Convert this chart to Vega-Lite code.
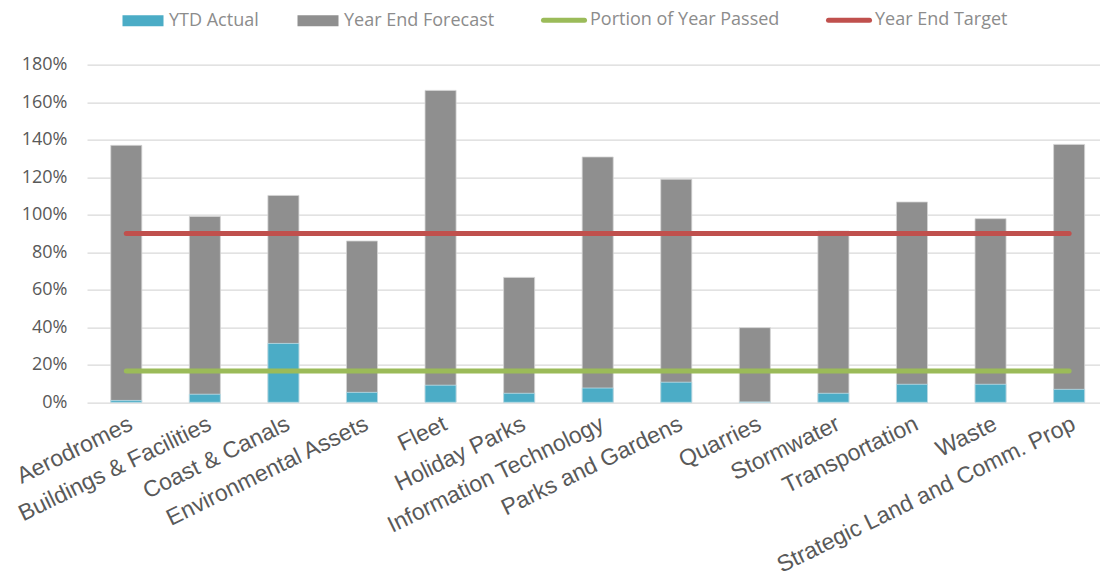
{
  "$schema": "https://vega.github.io/schema/vega-lite/v6.json",
  "width": 1013,
  "height": 337.6,
  "autosize": {"type": "none"},
  "padding": {"left": 87, "top": 64.7, "right": 0, "bottom": 174.7},
  "background": "white",
  "config": {
    "view": {"stroke": null},
    "axis": {"domain": false, "ticks": false, "title": null}
  },
  "data": {
    "values": [
      {"category": "Aerodromes", "series": "Year End Forecast", "value": 1.37},
      {"category": "Buildings & Facilities", "series": "Year End Forecast", "value": 0.991},
      {"category": "Coast & Canals", "series": "Year End Forecast", "value": 1.103},
      {"category": "Environmental Assets", "series": "Year End Forecast", "value": 0.86},
      {"category": "Fleet", "series": "Year End Forecast", "value": 1.663},
      {"category": "Holiday Parks", "series": "Year End Forecast", "value": 0.666},
      {"category": "Information Technology", "series": "Year End Forecast", "value": 1.308},
      {"category": "Parks and Gardens", "series": "Year End Forecast", "value": 1.189},
      {"category": "Quarries", "series": "Year End Forecast", "value": 0.398},
      {"category": "Stormwater", "series": "Year End Forecast", "value": 0.913},
      {"category": "Transportation", "series": "Year End Forecast", "value": 1.068},
      {"category": "Waste", "series": "Year End Forecast", "value": 0.979},
      {"category": "Strategic Land and Comm. Prop", "series": "Year End Forecast", "value": 1.375},

      {"category": "Aerodromes", "series": "YTD Actual", "value": 0.01},
      {"category": "Buildings & Facilities", "series": "YTD Actual", "value": 0.043},
      {"category": "Coast & Canals", "series": "YTD Actual", "value": 0.314},
      {"category": "Environmental Assets", "series": "YTD Actual", "value": 0.053},
      {"category": "Fleet", "series": "YTD Actual", "value": 0.091},
      {"category": "Holiday Parks", "series": "YTD Actual", "value": 0.048},
      {"category": "Information Technology", "series": "YTD Actual", "value": 0.076},
      {"category": "Parks and Gardens", "series": "YTD Actual", "value": 0.107},
      {"category": "Quarries", "series": "YTD Actual", "value": 0.001},
      {"category": "Stormwater", "series": "YTD Actual", "value": 0.048},
      {"category": "Transportation", "series": "YTD Actual", "value": 0.096},
      {"category": "Waste", "series": "YTD Actual", "value": 0.096},
      {"category": "Strategic Land and Comm. Prop", "series": "YTD Actual", "value": 0.069},

      {"category": "Aerodromes", "series": "Portion of Year Passed", "value": 0.167},
      {"category": "Buildings & Facilities", "series": "Portion of Year Passed", "value": 0.167},
      {"category": "Coast & Canals", "series": "Portion of Year Passed", "value": 0.167},
      {"category": "Environmental Assets", "series": "Portion of Year Passed", "value": 0.167},
      {"category": "Fleet", "series": "Portion of Year Passed", "value": 0.167},
      {"category": "Holiday Parks", "series": "Portion of Year Passed", "value": 0.167},
      {"category": "Information Technology", "series": "Portion of Year Passed", "value": 0.167},
      {"category": "Parks and Gardens", "series": "Portion of Year Passed", "value": 0.167},
      {"category": "Quarries", "series": "Portion of Year Passed", "value": 0.167},
      {"category": "Stormwater", "series": "Portion of Year Passed", "value": 0.167},
      {"category": "Transportation", "series": "Portion of Year Passed", "value": 0.167},
      {"category": "Waste", "series": "Portion of Year Passed", "value": 0.167},
      {"category": "Strategic Land and Comm. Prop", "series": "Portion of Year Passed", "value": 0.167},

      {"category": "Aerodromes", "series": "Year End Target", "value": 0.9},
      {"category": "Buildings & Facilities", "series": "Year End Target", "value": 0.9},
      {"category": "Coast & Canals", "series": "Year End Target", "value": 0.9},
      {"category": "Environmental Assets", "series": "Year End Target", "value": 0.9},
      {"category": "Fleet", "series": "Year End Target", "value": 0.9},
      {"category": "Holiday Parks", "series": "Year End Target", "value": 0.9},
      {"category": "Information Technology", "series": "Year End Target", "value": 0.9},
      {"category": "Parks and Gardens", "series": "Year End Target", "value": 0.9},
      {"category": "Quarries", "series": "Year End Target", "value": 0.9},
      {"category": "Stormwater", "series": "Year End Target", "value": 0.9},
      {"category": "Transportation", "series": "Year End Target", "value": 0.9},
      {"category": "Waste", "series": "Year End Target", "value": 0.9},
      {"category": "Strategic Land and Comm. Prop", "series": "Year End Target", "value": 0.9}
    ]
  },
  "encoding": {
    "x": {
      "field": "category",
      "type": "nominal",
      "sort": null,
      "scale": {"range": [0, 1021.4], "paddingInner": 0.605, "paddingOuter": 0.3025},
      "axis": {
        "labelAngle": -26,
        "labelAlign": "right",
        "labelBaseline": "top",
        "labelPadding": 10,
        "labelLimit": 0,
        "labelOverlap": false,
        "labelFont": "Liberation Sans",
        "labelFontSize": 23,
        "labelColor": "#595959",
        "grid": false
      }
    },
    "y": {
      "field": "value",
      "type": "quantitative",
      "stack": null,
      "scale": {"domain": [0, 1.8]},
      "axis": {
        "values": [0, 0.2, 0.4, 0.6, 0.8, 1, 1.2, 1.4, 1.6, 1.8],
        "format": ".0%",
        "grid": true,
        "gridColor": "#d9d9d9",
        "gridWidth": 1.3,
        "labelFont": "Open Sans",
        "labelFontSize": 18,
        "labelColor": "#595959",
        "labelPadding": 20
      }
    },
    "color": {
      "field": "series",
      "type": "nominal",
      "scale": {
        "domain": ["YTD Actual", "Year End Forecast", "Portion of Year Passed", "Year End Target"],
        "range": ["#4bacc6", "#8f8f8f", "#9bbb59", "#c0504d"]
      },
      "legend": {
        "title": null,
        "orient": "none",
        "direction": "horizontal",
        "legendX": 47,
        "legendY": -53.5,
        "padding": 0,
        "columnPadding": 38,
        "labelOffset": 17,
        "labelLimit": 0,
        "labelFont": "Open Sans",
        "labelFontSize": 18,
        "labelColor": "#8c8c8c",
        "symbolSize": 1681,
        "symbolOpacity": 1,
        "encode": {
          "symbols": {
            "update": {
              "shape": {"signal": "datum.value === 'YTD Actual' || datum.value === 'Year End Forecast' ? 'M-1,-0.27H1V0.27H-1Z' : 'stroke'"},
              "fill": {"scale": "color", "field": "value"},
              "stroke": {"scale": "color", "field": "value"},
              "strokeWidth": {"signal": "datum.value === 'YTD Actual' || datum.value === 'Year End Forecast' ? 0 : 5"},
              "strokeCap": {"value": "round"},
              "opacity": {"value": 1}
            }
          }
        }
      }
    }
  },
  "layer": [
    {
      "transform": [{"filter": "datum.series === 'Year End Forecast'"}],
      "mark": {"type": "bar", "stroke": "#d4d4d4", "strokeWidth": 0.8}
    },
    {
      "transform": [{"filter": "datum.series === 'YTD Actual'"}],
      "mark": {"type": "bar", "stroke": "#bfe0ea", "strokeWidth": 0.8}
    },
    {
      "transform": [{"filter": "datum.series === 'Portion of Year Passed' || datum.series === 'Year End Target'"}],
      "mark": {"type": "line", "strokeWidth": 5, "strokeCap": "round"}
    }
  ]
}
